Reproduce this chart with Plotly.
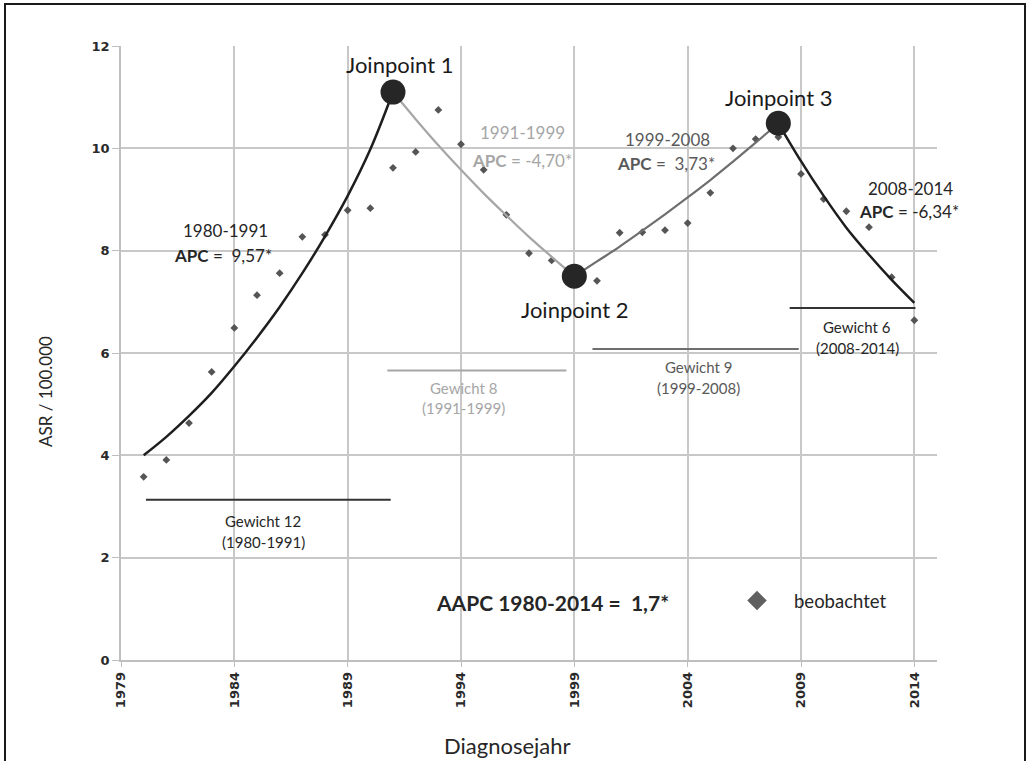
import plotly.graph_objects as go

# ---------------- data ----------------
obs_years = list(range(1980, 2015))
obs_values = [3.58, 3.91, 4.63, 5.63, 6.49, 7.13, 7.56, 8.27, 8.31, 8.79, 8.83, 9.62,
              9.93, 10.75, 10.08, 9.58, 8.70, 7.95, 7.81, 7.50, 7.41, 8.35, 8.36, 8.40,
              8.54, 9.13, 10.00, 10.18, 10.22, 9.50, 9.01, 8.77, 8.46, 7.48, 6.64]

seg1_years = list(range(1980, 1992))
seg1_fit = [4.00, 4.36, 4.77, 5.22, 5.74, 6.30, 6.90, 7.56, 8.28, 9.07, 9.98, 11.10]
seg2_years = list(range(1991, 2000))
seg2_fit = [11.10, 10.57, 10.06, 9.58, 9.12, 8.69, 8.27, 7.88, 7.50]
seg3_years = list(range(1999, 2009))
seg3_fit = [7.50, 7.79, 8.08, 8.39, 8.71, 9.04, 9.38, 9.74, 10.11, 10.49]
seg4_years = list(range(2008, 2015))
seg4_fit = [10.49, 9.75, 9.07, 8.45, 7.92, 7.43, 6.98]

jp_years = [1991, 1999, 2008]
jp_values = [11.10, 7.50, 10.49]
jp_labels = ["Joinpoint 1", "Joinpoint 2", "Joinpoint 3"]

periods = ["1980-1991", "1991-1999", "1999-2008", "2008-2014"]
apc_values = ["9,57*", "-4,70*", "3,73*", "-6,34*"]
weights = [12, 8, 9, 6]
weight_start = [1980.1, 1990.75, 1999.8, 2008.5]
weight_end = [1990.9, 1998.65, 2008.9, 2014.05]
weight_level = [3.13, 5.66, 6.08, 6.88]

x_ticks = [1979, 1984, 1989, 1994, 1999, 2004, 2009, 2014]
y_ticks = [0, 2, 4, 6, 8, 10, 12]
aapc_text = "AAPC 1980-2014 =\u00a0 1,7*"

# ---------------- style ----------------
FONT = "Lato"
C_DARK = "#1e1e1e"
C_LIGHT = "#a6a6a6"
C_MID = "#6e6e6e"
seg_colors = ["#333333", C_LIGHT, C_MID, "#333333"]
text_colors = ["#262626", "#a6a6a6", "#595959", "#262626"]

fig = go.Figure()

fig.add_trace(go.Scatter(x=obs_years, y=obs_values, mode="markers",
                         marker=dict(symbol="diamond", size=6, color="#555555"),
                         showlegend=False, hoverinfo="skip"))

for yrs, vals, col, w in [(seg1_years, seg1_fit, C_DARK, 2.5),
                          (seg2_years, seg2_fit, C_LIGHT, 2.2),
                          (seg3_years, seg3_fit, C_MID, 2.2),
                          (seg4_years, seg4_fit, C_DARK, 2.5)]:
    fig.add_trace(go.Scatter(x=yrs, y=vals, mode="lines",
                             line=dict(color=col, width=w, shape="spline"),
                             showlegend=False, hoverinfo="skip"))

for i in range(len(weights)):
    fig.add_trace(go.Scatter(x=[weight_start[i], weight_end[i]],
                             y=[weight_level[i], weight_level[i]], mode="lines",
                             line=dict(color=seg_colors[i], width=2),
                             showlegend=False, hoverinfo="skip"))

fig.add_trace(go.Scatter(x=jp_years, y=jp_values, mode="markers",
                         marker=dict(symbol="circle", size=25, color="#262626"),
                         showlegend=False, hoverinfo="skip"))

# legend entry
fig.add_trace(go.Scatter(x=[None], y=[None], mode="markers", name="beobachtet",
                         marker=dict(symbol="diamond", size=15, color="#606060"),
                         showlegend=True))

ann = []
# joinpoint labels
jp_label_pos = [(1991.27, 11.63), (1999.0, 6.86), (2008.0, 11.0)]
for (x, y), t in zip(jp_label_pos, jp_labels):
    ann.append(dict(x=x, y=y, text=t, showarrow=False,
                    font=dict(family=FONT, size=22, color="#1a1a1a")))

# period / APC labels
period_pos = [(1983.6, 8.40), (1996.7, 10.30), (2003.1, 10.18), (2013.82, 9.22)]
apc_pos = [(1983.5, 7.91), (1996.7, 9.77), (2003.05, 9.71), (2013.78, 8.76)]
for i in range(4):
    ann.append(dict(x=period_pos[i][0], y=period_pos[i][1], text=periods[i],
                    showarrow=False, font=dict(family=FONT, size=17, color=text_colors[i])))
    sep = "=\u00a0 " if i in (0, 2) else "= "
    ann.append(dict(x=apc_pos[i][0], y=apc_pos[i][1],
                    text="<b>APC</b> " + sep + apc_values[i],
                    showarrow=False, font=dict(family=FONT, size=17, color=text_colors[i])))

# weight labels (two lines each)
wl_x = [1985.27, 1994.09, 2004.46, 2011.48]
wl_y1 = [2.716, 5.316, 5.726, 6.508]
wl_y2 = [2.306, 4.925, 5.316, 6.097]
for i in range(4):
    ann.append(dict(x=wl_x[i], y=wl_y1[i], text="Gewicht %d" % weights[i],
                    showarrow=False, font=dict(family=FONT, size=15, color=text_colors[i])))
    ann.append(dict(x=wl_x[i], y=wl_y2[i], text="(%s)" % periods[i],
                    showarrow=False, font=dict(family=FONT, size=15, color=text_colors[i])))

ann.append(dict(x=1998.02, y=1.133, text="<b>" + aapc_text + "</b>", showarrow=False,
                font=dict(family=FONT, size=21, color="#262626")))

# axis titles
ann.append(dict(xref="paper", yref="paper", x=(45 - 121) / 816, y=(660 - 392) / 614,
                xanchor="center", yanchor="middle",
                text="ASR / 100.000", textangle=-90, showarrow=False,
                font=dict(family=FONT, size=17, color="#262626")))
ann.append(dict(xref="paper", yref="paper", x=(507 - 121) / 816, y=(660 - 745) / 614,
                xanchor="center", yanchor="middle",
                text="Diagnosejahr", showarrow=False,
                font=dict(family=FONT, size=22, color="#262626")))

fig.update_layout(
    width=1028, height=761,
    margin=dict(l=121, r=91, t=46, b=101),
    paper_bgcolor="white", plot_bgcolor="white",
    annotations=ann,
    legend=dict(x=(720 - 121) / 816, y=(660 - 601) / 614, xanchor="left", yanchor="middle",
                bgcolor="rgba(0,0,0,0)", itemwidth=64,
                font=dict(family=FONT, size=18.5, color="#262626")),
    shapes=[dict(type="rect", xref="paper", yref="paper",
                 x0=(5 - 121) / 816, x1=(1025 - 121) / 816,
                 y0=(660 - 790) / 614, y1=(660 - 4) / 614,
                 line=dict(color="#1a1a1a", width=2))],
)

fig.update_xaxes(range=[1979, 2015], tickvals=x_ticks, ticktext=[str(v) for v in x_ticks],
                 tickangle=-90, ticks="outside", ticklen=5, tickcolor="#bfbfbf",
                 showgrid=True, gridcolor="#c8c8c8", gridwidth=1.5,
                 showline=True, linecolor="#bfbfbf", linewidth=1.5, zeroline=False,
                 tickfont=dict(family="DejaVu Sans", size=13, color="#2a2a2a", weight="bold"))
fig.update_yaxes(range=[0, 12], tickvals=y_ticks, ticks="outside", ticklen=7,
                 tickcolor="#bfbfbf", showgrid=True, gridcolor="#c8c8c8", gridwidth=1.5,
                 showline=True, linecolor="#bfbfbf", linewidth=1.5, zeroline=False,
                 tickfont=dict(family="DejaVu Sans", size=13, color="#2a2a2a", weight="bold"))

fig.write_html("out.html")
